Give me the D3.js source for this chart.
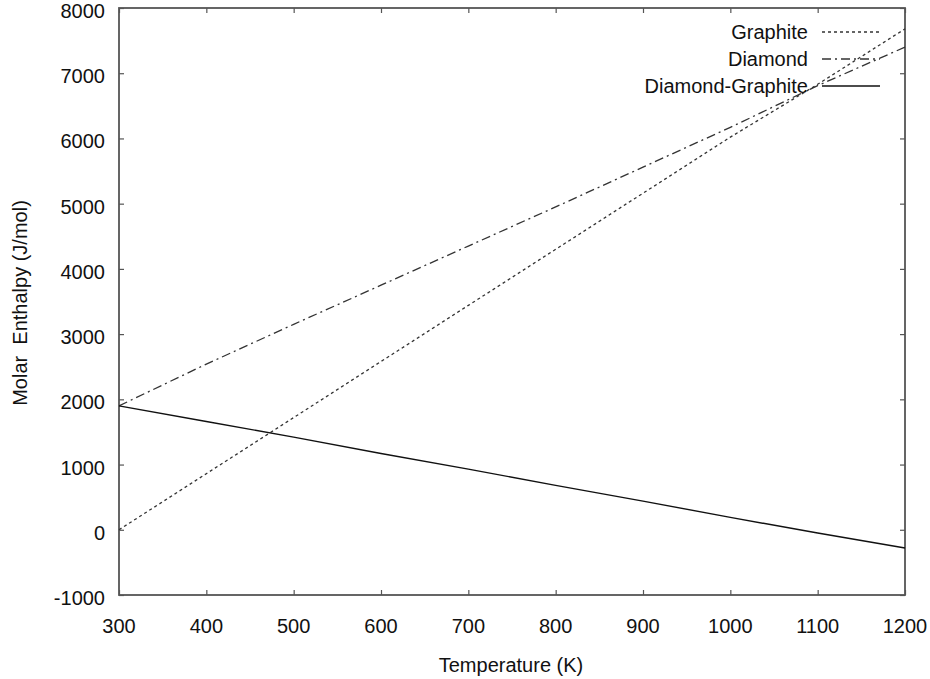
<!DOCTYPE html>
<html>
<head>
<meta charset="utf-8">
<script src="https://cdn.jsdelivr.net/npm/d3@7"></script>
<style>
  body { margin: 0; background: #fff; }
  text { font-family: "Liberation Sans", Arial, sans-serif; fill: #111; }
</style>
</head>
<body>
<script>
// width and height
var w = 930;
var h = 679;

// data
var temperature = [300, 400, 500, 600, 700, 800, 900, 1000, 1100, 1200];
var graphite    = [0, 860, 1720, 2580, 3440, 4300, 5160, 6020, 6830, 7680];
var diamond     = [1900, 2540, 3150, 3750, 4350, 4950, 5560, 6170, 6810, 7400];
var diamondGraphite = [1900, 1660, 1420, 1170, 930, 680, 440, 190, -50, -280];

var xTicks = [300, 400, 500, 600, 700, 800, 900, 1000, 1100, 1200];
var yTicks = [-1000, 0, 1000, 2000, 3000, 4000, 5000, 6000, 7000, 8000];

var seriesNames = ["Graphite", "Diamond", "Diamond-Graphite"];
var seriesValues = [graphite, diamond, diamondGraphite];
var seriesDash = ["3,3", "9,4,2,4", null];

// plot box (no "top": it's window.top)
var pLeft = 119, pRight = 905, pTop = 8, pBottom = 595;

var xScale = d3.scaleLinear().domain([300, 1200]).range([pLeft, pRight]);
var yScale = d3.scaleLinear().domain([-1000, 8000]).range([pBottom, pTop]);

var svg = d3.select("body").append("svg")
    .attr("width", w)
    .attr("height", h);

// axes with inward ticks, mirrored on all sides
var tickLen = 5;
svg.append("g")
    .attr("transform", "translate(0," + pBottom + ")")
    .call(d3.axisTop(xScale).tickValues(xTicks).tickSize(tickLen).tickFormat(""));
svg.append("g")
    .attr("transform", "translate(0," + pTop + ")")
    .call(d3.axisBottom(xScale).tickValues(xTicks).tickSize(tickLen).tickFormat(""));
svg.append("g")
    .attr("transform", "translate(" + pLeft + ",0)")
    .call(d3.axisRight(yScale).tickValues(yTicks).tickSize(tickLen).tickFormat(""));
svg.append("g")
    .attr("transform", "translate(" + pRight + ",0)")
    .call(d3.axisLeft(yScale).tickValues(yTicks).tickSize(tickLen).tickFormat(""));

svg.selectAll(".domain").remove();
svg.selectAll(".tick line").attr("stroke", "#555").attr("stroke-width", 1.2);

// frame
svg.append("rect")
    .attr("x", pLeft).attr("y", pTop)
    .attr("width", pRight - pLeft).attr("height", pBottom - pTop)
    .attr("fill", "none")
    .attr("stroke", "#555")
    .attr("stroke-width", 1.8);

// tick labels
svg.selectAll(".xlab")
    .data(xTicks)
    .enter().append("text")
    .attr("x", function(d) { return xScale(d); })
    .attr("y", 633)
    .attr("text-anchor", "middle")
    .style("font-size", "20px")
    .text(function(d) { return d; });

svg.selectAll(".ylab")
    .data(yTicks)
    .enter().append("text")
    .attr("x", 105)
    .attr("y", function(d) { return yScale(d) + 10; })
    .attr("text-anchor", "end")
    .style("font-size", "20px")
    .text(function(d) { return d; });

// axis titles
svg.append("text")
    .attr("x", 511).attr("y", 672)
    .attr("text-anchor", "middle")
    .style("font-size", "20px")
    .text("Temperature (K)");

svg.append("text")
    .attr("transform", "translate(27,303) rotate(-90)")
    .attr("text-anchor", "middle")
    .style("font-size", "20px")
    .style("white-space", "pre")
    .attr("xml:space", "preserve")
    .text("Molar  Enthalpy (J/mol)");

// lines
var line = d3.line()
    .x(function(d, i) { return xScale(temperature[i]); })
    .y(function(d) { return yScale(d); });

seriesValues.forEach(function(vals, k) {
    svg.append("path")
        .datum(vals)
        .attr("d", line)
        .attr("fill", "none")
        .attr("stroke", k == 2 ? "#111" : "#333")
        .attr("stroke-width", k == 2 ? 1.4 : 1.3)
        .attr("stroke-dasharray", seriesDash[k]);
});

// legend
seriesNames.forEach(function(name, k) {
    var yy = 32 + k * 27;
    svg.append("text")
        .attr("x", 808).attr("y", yy + 7)
        .attr("text-anchor", "end")
        .style("font-size", "20px")
        .text(name);
    svg.append("line")
        .attr("x1", 822).attr("x2", 880)
        .attr("y1", yy).attr("y2", yy)
        .attr("stroke", k == 2 ? "#111" : "#333")
        .attr("stroke-width", k == 2 ? 1.4 : 1.3)
        .attr("stroke-dasharray", seriesDash[k]);
});
</script>
</body>
</html>
